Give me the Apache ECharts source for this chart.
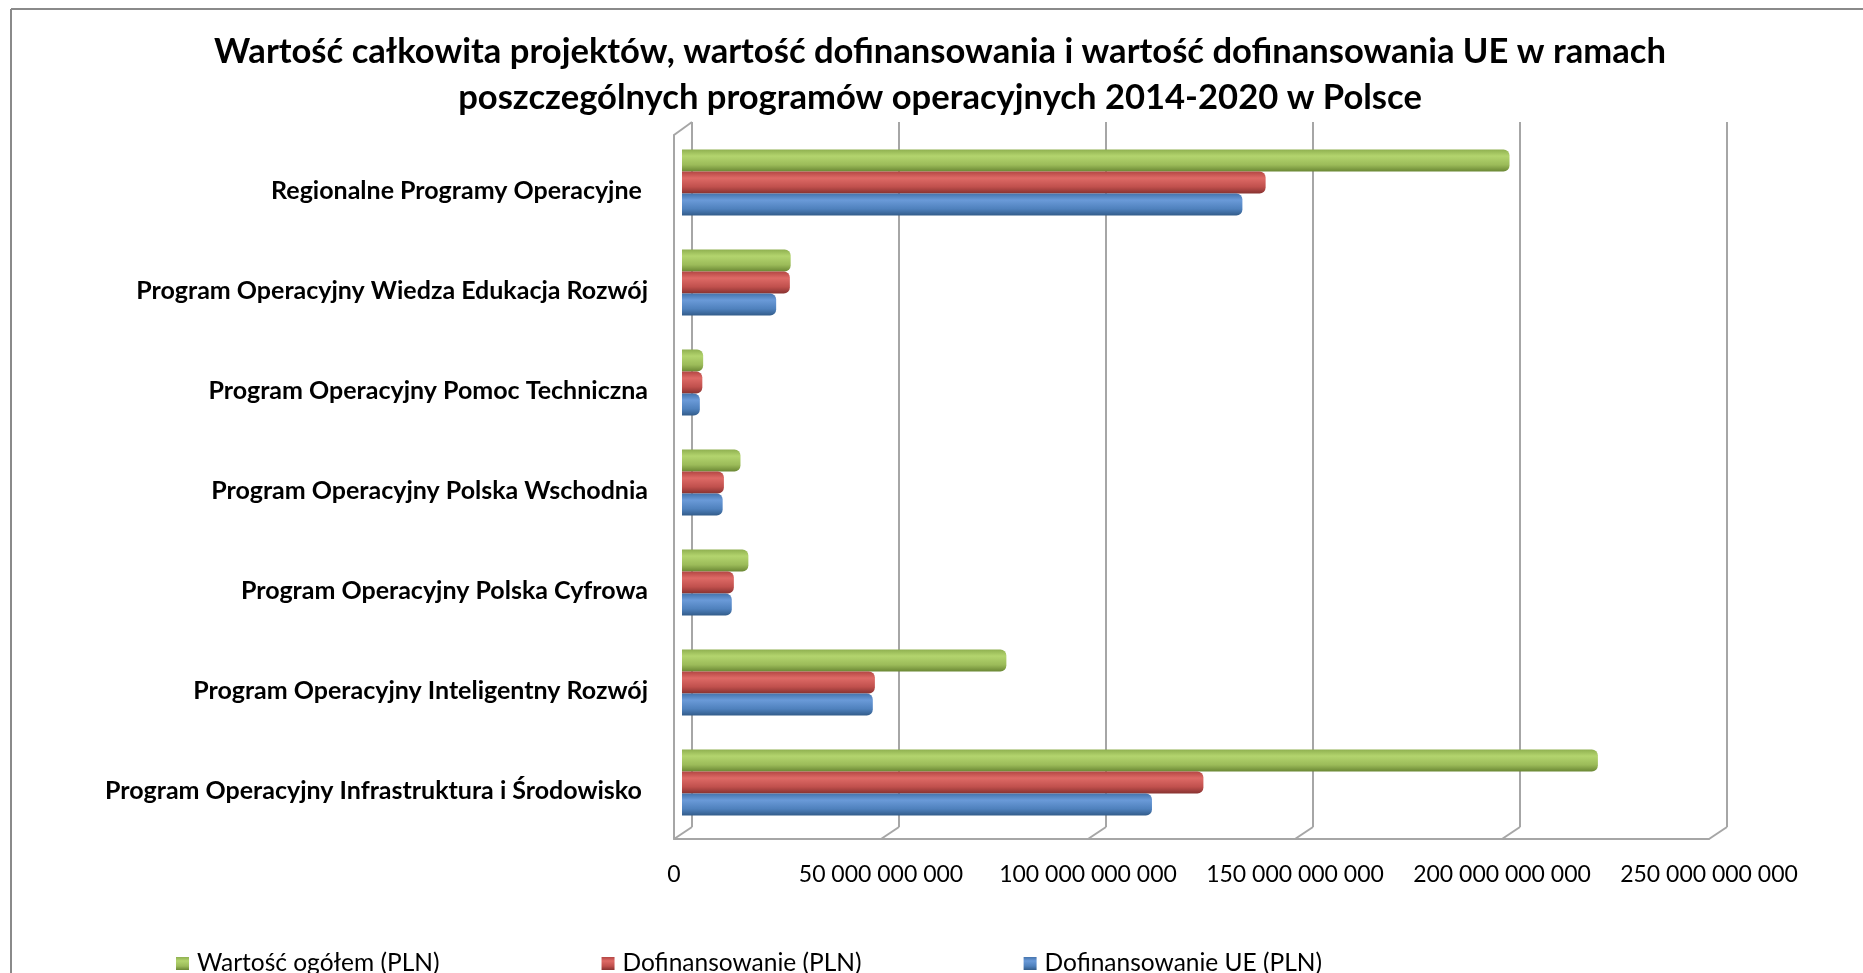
<!DOCTYPE html>
<html>
<head>
<meta charset="utf-8">
<script src="https://cdn.jsdelivr.net/npm/echarts@6/dist/echarts.min.js"></script>
<style>
html,body{margin:0;padding:0;background:#fff;}
#c{width:1863px;height:973px;}
</style>
</head>
<body>
<div id="c"></div>
<script>
// Categories listed bottom to top
var categories = [
  'Program Operacyjny Infrastruktura i Środowisko ',
  'Program Operacyjny Inteligentny Rozwój',
  'Program Operacyjny Polska Cyfrowa',
  'Program Operacyjny Polska Wschodnia',
  'Program Operacyjny Pomoc Techniczna',
  'Program Operacyjny Wiedza Edukacja Rozwój',
  'Regionalne Programy Operacyjne '
];
var wartoscOgolem   = [220.8e9, 78.2e9, 16.0e9, 14.1e9, 5.1e9, 26.2e9, 199.5e9];
var dofinansowanie  = [125.7e9, 46.5e9, 12.5e9, 10.1e9, 4.9e9, 26.0e9, 140.7e9];
var dofinansowanieUE= [113.3e9, 46.0e9, 12.0e9,  9.8e9, 4.3e9, 22.7e9, 135.1e9];
var seriesNames = ['Wartość ogółem (PLN)', 'Dofinansowanie (PLN)', 'Dofinansowanie UE (PLN)'];
var xTickValues = [0, 50e9, 100e9, 150e9, 200e9, 250e9];
var xTickLabels = ['0', '50 000 000 000', '100 000 000 000', '150 000 000 000', '200 000 000 000', '250 000 000 000'];
var titleText = 'Wartość całkowita projektów, wartość dofinansowania i wartość dofinansowania UE w ramach\nposzczególnych programów operacyjnych 2014-2020 w Polsce';

var FONT = 'Lato';
function cyl(c0, c1, c2, c3) {
  return new echarts.graphic.LinearGradient(0, 0, 0, 1, [
    {offset: 0, color: c0}, {offset: 0.3, color: c1},
    {offset: 0.7, color: c2}, {offset: 1, color: c3}
  ]);
}
var gridLineColor = '#a6a6a6';
var chart = echarts.init(document.getElementById('c'));
var xMin = xTickValues[0], xMax = xTickValues[xTickValues.length - 1], xInt = xTickValues[1] - xTickValues[0];

function barSeries(name, data, grad) {
  return {
    name: name, type: 'bar', xAxisIndex: 0, yAxisIndex: 0,
    data: data, barWidth: 22, barGap: '0%',
    itemStyle: {color: grad, borderRadius: [0, 6, 6, 0]},
    z: 3
  };
}

chart.setOption({
  backgroundColor: '#ffffff',
  animation: false,
  title: {
    text: titleText, left: 940, textAlign: 'center', top: 29, padding: 0,
    textStyle: {fontFamily: FONT, fontWeight: 'bold', fontSize: 34.6, lineHeight: 46, color: '#000'}
  },
  legend: {
    data: seriesNames, left: 171, top: 946, itemGap: 162,
    itemWidth: 13, itemHeight: 13, icon: 'rect',
    textStyle: {fontFamily: FONT, fontSize: 24.5, color: '#000', padding: [0, 0, 0, 3]}
  },
  grid: [
    {left: 682, width: 1037, top: 132.5, height: 700},
    {left: 692, width: 1035, top: 122, height: 705},
    {left: 674, width: 1035, top: 135, height: 704}
  ],
  xAxis: [
    {gridIndex: 0, type: 'value', min: xMin, max: xMax, interval: xInt, show: false},
    {gridIndex: 1, type: 'value', min: xMin, max: xMax, interval: xInt,
      axisLine: {show: false}, axisTick: {show: false}, axisLabel: {show: false},
      splitLine: {show: true, lineStyle: {color: gridLineColor, width: 2}}},
    {gridIndex: 2, type: 'value', min: xMin, max: xMax, interval: xInt,
      axisLine: {show: true, lineStyle: {color: gridLineColor, width: 2}},
      axisTick: {show: false}, splitLine: {show: false},
      axisLabel: {margin: 24, fontFamily: FONT, fontSize: 23, color: '#000',
        formatter: function (v) { return xTickLabels[Math.round((v - xMin) / xInt)]; }}}
  ],
  yAxis: [
    {gridIndex: 0, type: 'category', data: categories,
      axisLine: {show: false}, axisTick: {show: false}, splitLine: {show: false},
      axisLabel: {margin: 34, fontFamily: FONT, fontWeight: 'bold', fontSize: 25, color: '#000',
        verticalAlign: 'top', lineHeight: 16}},
    {gridIndex: 1, type: 'value', min: 0, max: 1, show: false},
    {gridIndex: 2, type: 'value', min: 0, max: 1,
      axisLine: {show: true, lineStyle: {color: gridLineColor, width: 2}},
      axisTick: {show: false}, axisLabel: {show: false}, splitLine: {show: false}}
  ],
  graphic: [
    {type: 'line', shape: {x1: 11, y1: 9, x2: 1863, y2: 9}, style: {stroke: '#8a8a8a', lineWidth: 2}},
    {type: 'line', shape: {x1: 11, y1: 9, x2: 11, y2: 973}, style: {stroke: '#8a8a8a', lineWidth: 2}}
  ],
  series: [
    barSeries(seriesNames[0], wartoscOgolem, cyl('#8fb050', '#b3d46e', '#9bbb59', '#6a8734')),
    barSeries(seriesNames[1], dofinansowanie, cyl('#b34643', '#de6a66', '#c0504d', '#873230')),
    barSeries(seriesNames[2], dofinansowanieUE, cyl('#4574ad', '#6a9ad8', '#4f81bd', '#325c8a')),
    {
      type: 'custom', xAxisIndex: 2, yAxisIndex: 2, silent: true, z: 1,
      data: xTickValues,
      renderItem: function (params, api) {
        var v = api.value(0);
        var p = api.coord([v, 0]);
        var children = [{type: 'line', shape: {x1: p[0], y1: p[1], x2: p[0] + 18, y2: p[1] - 12},
          style: {stroke: gridLineColor, lineWidth: 2}}];
        if (v === xMin) {
          var t = api.coord([v, 1]);
          children.push({type: 'line', shape: {x1: t[0], y1: t[1], x2: t[0] + 18, y2: t[1] - 13},
            style: {stroke: gridLineColor, lineWidth: 2}});
        }
        if (v === xMax) {
          children.push({type: 'line', shape: {x1: p[0] + 18, y1: p[1] - 12, x2: p[0] + 18, y2: p[1] - 717},
            style: {stroke: gridLineColor, lineWidth: 2}});
        }
        return {type: 'group', children: children};
      }
    }
  ]
});
</script>
</body>
</html>
